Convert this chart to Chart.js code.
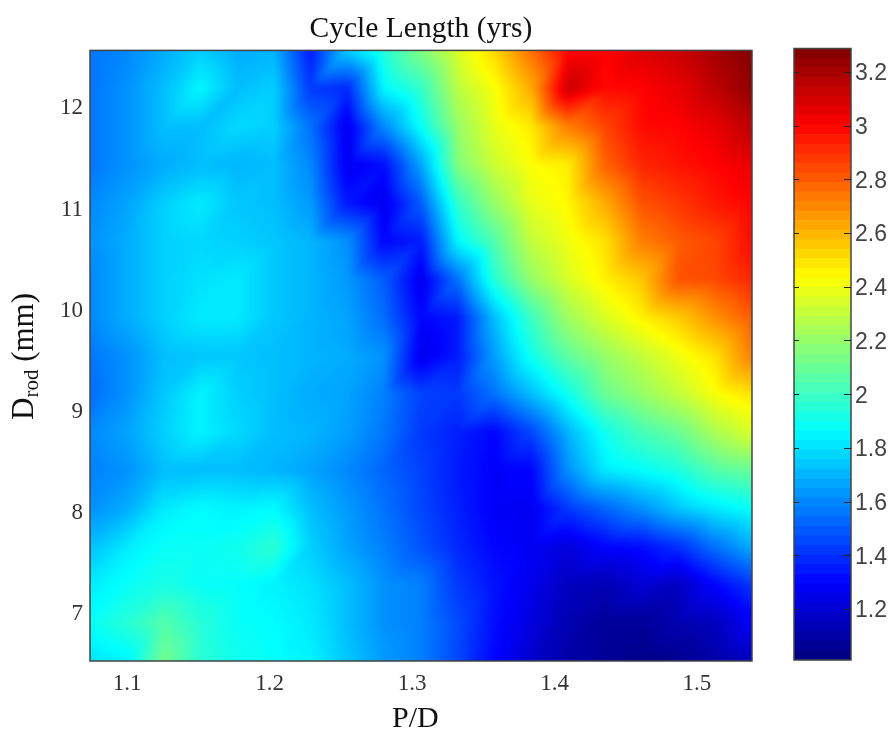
<!DOCTYPE html>
<html>
<head>
<meta charset="utf-8">
<style>
  body { margin: 0; background: #fff; }
  canvas { position: absolute; top: 0; }
</style>
<script src="https://cdn.jsdelivr.net/npm/chart.js@4"></script>
</head>
<body>
<canvas id="mapChart" width="770" height="732" style="left:0"></canvas>
<canvas id="barChart" width="121" height="732" style="left:770px"></canvas>
<script>
const xTicks = [1.1, 1.2, 1.3, 1.4, 1.5];
const yTicks = [7, 8, 9, 10, 11, 12];
const barTicks = [1.2, 1.4, 1.6, 1.8, 2, 2.2, 2.4, 2.6, 2.8, 3, 3.2];

// grid the surface was read on
const pdValues = [1.074, 1.0998, 1.1256, 1.1514, 1.1772, 1.203, 1.2288, 1.2546, 1.2804, 1.3064, 1.3322, 1.358, 1.3838, 1.4096, 1.4354, 1.4612, 1.487, 1.5128, 1.5386];
const dRodValues = [12.553, 12.176, 11.799, 11.421, 11.044, 10.667, 10.289, 9.912, 9.535, 9.157, 8.78, 8.403, 8.025, 7.648, 7.271, 6.893, 6.516];

// cycle length in years, rows top to bottom, columns left to right
const row00 = [1.56, 1.6, 1.68, 1.76, 1.68, 1.7, 1.35, 1.75, 1.95, 2.15, 2.35, 2.52, 2.75, 3.0, 3.0, 3.08, 3.12, 3.2, 3.28];
const row01 = [1.56, 1.62, 1.72, 1.85, 1.72, 1.76, 1.42, 1.38, 1.85, 1.98, 2.28, 2.42, 2.62, 3.12, 2.98, 3.0, 3.05, 3.15, 3.25];
const row02 = [1.56, 1.62, 1.72, 1.72, 1.78, 1.76, 1.55, 1.25, 1.6, 1.88, 2.2, 2.38, 2.48, 2.72, 2.85, 2.98, 3.0, 3.05, 3.15];
const row03 = [1.56, 1.62, 1.68, 1.72, 1.7, 1.72, 1.6, 1.26, 1.32, 1.66, 2.15, 2.32, 2.43, 2.47, 2.78, 2.92, 2.96, 3.0, 3.05];
const row04 = [1.6, 1.66, 1.76, 1.82, 1.74, 1.72, 1.64, 1.34, 1.25, 1.5, 1.98, 2.2, 2.38, 2.45, 2.62, 2.82, 2.88, 2.95, 3.0];
const row05 = [1.62, 1.68, 1.76, 1.78, 1.76, 1.74, 1.7, 1.62, 1.3, 1.35, 1.85, 2.05, 2.3, 2.4, 2.5, 2.72, 2.8, 2.85, 2.98];
const row06 = [1.6, 1.68, 1.76, 1.8, 1.82, 1.74, 1.7, 1.64, 1.5, 1.25, 1.55, 1.95, 2.2, 2.35, 2.46, 2.56, 2.82, 2.84, 2.92];
const row07 = [1.6, 1.68, 1.76, 1.82, 1.82, 1.74, 1.7, 1.66, 1.54, 1.3, 1.35, 1.72, 2.0, 2.22, 2.35, 2.46, 2.55, 2.68, 2.8];
const row08 = [1.56, 1.62, 1.72, 1.74, 1.74, 1.72, 1.7, 1.68, 1.62, 1.25, 1.35, 1.65, 1.9, 2.08, 2.2, 2.3, 2.4, 2.5, 2.72];
const row09 = [1.54, 1.62, 1.74, 1.84, 1.76, 1.72, 1.68, 1.66, 1.58, 1.44, 1.42, 1.55, 1.72, 1.9, 2.1, 2.2, 2.3, 2.42, 2.5];
const row10 = [1.6, 1.66, 1.76, 1.84, 1.78, 1.72, 1.7, 1.65, 1.56, 1.42, 1.36, 1.3, 1.45, 1.7, 1.9, 2.02, 2.1, 2.25, 2.35];
const row11 = [1.58, 1.62, 1.72, 1.72, 1.72, 1.7, 1.66, 1.6, 1.52, 1.44, 1.35, 1.28, 1.3, 1.62, 1.82, 1.87, 1.93, 2.05, 2.1];
const row12 = [1.62, 1.68, 1.82, 1.86, 1.84, 1.86, 1.72, 1.64, 1.55, 1.45, 1.36, 1.28, 1.26, 1.42, 1.52, 1.62, 1.74, 1.82, 1.88];
const row13 = [1.72, 1.82, 1.88, 1.88, 1.9, 1.96, 1.76, 1.66, 1.58, 1.48, 1.38, 1.3, 1.27, 1.22, 1.3, 1.32, 1.4, 1.55, 1.68];
const row14 = [1.82, 1.88, 1.92, 1.88, 1.87, 1.84, 1.8, 1.72, 1.62, 1.58, 1.42, 1.33, 1.25, 1.15, 1.13, 1.2, 1.16, 1.3, 1.42];
const row15 = [1.88, 1.95, 2.05, 1.95, 1.88, 1.86, 1.82, 1.72, 1.62, 1.58, 1.46, 1.32, 1.22, 1.12, 1.07, 1.07, 1.12, 1.15, 1.28];
const row16 = [1.8, 1.84, 2.12, 1.96, 1.9, 1.87, 1.84, 1.74, 1.64, 1.58, 1.45, 1.3, 1.18, 1.1, 1.06, 1.03, 1.05, 1.1, 1.15];
const cycleRows = [row00, row01, row02, row03, row04, row05, row06, row07, row08, row09, row10, row11, row12, row13, row14, row15, row16];

const colorMin = 1.01;
const colorMax = 3.2875;
const colorLevels = 64;

function jet(v) {
    const t = Math.max(0, Math.min(1, (v - colorMin) / (colorMax - colorMin)));
    const ch = (c) => Math.round(255 * Math.max(0, Math.min(1, 1.5 - Math.abs(4 * t - c))));
    return [ch(3), ch(2), ch(1)];
}

const points = [];
dRodValues.forEach((d, j) => pdValues.forEach((p, i) => points.push({ x: p, y: d, v: cycleRows[j][i] })));

// shades the plot area from the grid, one triangle pair per cell
const surfacePlugin = {
    id: 'surface',
    beforeDatasetsDraw(chart) {
        const { ctx, chartArea: area, scales } = chart;
        const xs = pdValues.map(v => scales.x.getPixelForValue(v));
        const ys = dRodValues.map(v => scales.y.getPixelForValue(v));
        const w = Math.round(area.right - area.left);
        const h = Math.round(area.bottom - area.top);
        const off = document.createElement('canvas');
        off.width = w;
        off.height = h;
        const octx = off.getContext('2d');
        const img = octx.createImageData(w, h);
        for (let py = 0; py < h; py++) {
            const sy = area.top + py + 0.5;
            let j = 0;
            while (j < ys.length - 2 && sy > ys[j + 1]) j++;
            const t = (ys[j + 1] - sy) / (ys[j + 1] - ys[j]);
            for (let px = 0; px < w; px++) {
                const sx = area.left + px + 0.5;
                let i = 0;
                while (i < xs.length - 2 && sx > xs[i + 1]) i++;
                const s = (sx - xs[i]) / (xs[i + 1] - xs[i]);
                const v00 = cycleRows[j + 1][i];
                const v10 = cycleRows[j + 1][i + 1];
                const v01 = cycleRows[j][i];
                const v11 = cycleRows[j][i + 1];
                const v = s > t
                    ? v00 + s * (v10 - v00) + t * (v11 - v10)
                    : v00 + t * (v01 - v00) + s * (v11 - v01);
                const c = jet(v);
                const k = (py * w + px) * 4;
                img.data[k] = c[0];
                img.data[k + 1] = c[1];
                img.data[k + 2] = c[2];
                img.data[k + 3] = 255;
            }
        }
        octx.putImageData(img, 0, 0);
        ctx.save();
        ctx.beginPath();
        ctx.rect(area.left, area.top, area.right - area.left, area.bottom - area.top);
        ctx.clip();
        // sharp copy underneath so the blur doesn't fade at the edges
        ctx.drawImage(off, area.left, area.top);
        ctx.filter = 'blur(2.5px)';
        ctx.drawImage(off, area.left, area.top);
        ctx.restore();
    }
};

const framePlugin = {
    id: 'frame',
    afterDraw(chart) {
        const { ctx, chartArea: area } = chart;
        ctx.save();
        ctx.strokeStyle = '#444';
        ctx.lineWidth = 1.5;
        ctx.strokeRect(area.left, area.top, area.right - area.left, area.bottom - area.top);
        ctx.restore();
    }
};

// axis titles: the y one has a subscript and the x one sits off centre
const axisLabelPlugin = {
    id: 'axisLabels',
    afterDraw(chart) {
        const ctx = chart.ctx;
        ctx.save();
        ctx.fillStyle = '#111';
        ctx.textBaseline = 'alphabetic';
        ctx.textAlign = 'left';
        ctx.font = '30px "Liberation Serif"';
        ctx.fillText('P/D', 392, 727);
        ctx.translate(33, 420);
        ctx.rotate(-Math.PI / 2);
        ctx.font = '31px "Liberation Serif"';
        ctx.fillText('D', 0, 0);
        let w = ctx.measureText('D').width;
        ctx.font = '21px "Liberation Serif"';
        ctx.fillText('rod', w, 5);
        w += ctx.measureText('rod').width;
        ctx.font = '31px "Liberation Serif"';
        ctx.fillText(' (mm)', w, 0);
        ctx.restore();
    }
};

// colorbar ticks point inwards from both sides
const barTickPlugin = {
    id: 'barTicks',
    afterDraw(chart) {
        const { ctx, chartArea: area, scales } = chart;
        ctx.save();
        ctx.strokeStyle = '#222';
        ctx.lineWidth = 1;
        ctx.beginPath();
        barTicks.forEach(v => {
            const y = Math.round(scales.y.getPixelForValue(v)) + 0.5;
            ctx.moveTo(area.left, y);
            ctx.lineTo(area.left + 5, y);
            ctx.moveTo(area.right - 7, y);
            ctx.lineTo(area.right, y);
        });
        ctx.stroke();
        ctx.restore();
    }
};

new Chart(document.getElementById('mapChart'), {
    type: 'scatter',
    data: { datasets: [{ label: 'Cycle Length (yrs)', data: points, pointRadius: 0, showLine: false }] },
    options: {
        responsive: false,
        animation: false,
        layout: { padding: { right: 18 } },
        plugins: {
            legend: { display: false },
            tooltip: { enabled: false },
            title: {
                display: true,
                text: 'Cycle Length (yrs)',
                fullSize: false,
                color: '#111',
                font: { family: '"Liberation Serif"', size: 29.5, weight: 'normal' },
                padding: { top: 12, bottom: 3 }
            }
        },
        scales: {
            x: {
                type: 'linear',
                min: 1.074,
                max: 1.5386,
                grid: { display: false, drawTicks: false },
                border: { display: false },
                afterBuildTicks: (s) => { s.ticks = xTicks.map(v => ({ value: v })); },
                afterFit: (s) => { s.height = 71; },
                ticks: {
                    color: '#333',
                    maxRotation: 0,
                    font: { family: '"Liberation Serif"', size: 23 },
                    padding: 9,
                    callback: (v) => String(v)
                }
            },
            y: {
                type: 'linear',
                min: 6.516,
                max: 12.553,
                grid: { display: false, drawTicks: false },
                border: { display: false },
                afterBuildTicks: (s) => { s.ticks = yTicks.map(v => ({ value: v })); },
                afterFit: (s) => { s.width = 90; },
                ticks: {
                    color: '#333',
                    font: { family: '"Liberation Serif"', size: 23 },
                    padding: 7,
                    labelOffset: 2,
                    callback: (v) => String(v)
                }
            }
        }
    },
    plugins: [surfacePlugin, framePlugin, axisLabelPlugin]
});

// colormap levels for the colorbar
const levelColors = [];
const levelRanges = [];
for (let i = 0; i < colorLevels; i++) {
    const lo = colorMin + (colorMax - colorMin) * i / colorLevels;
    const hi = colorMin + (colorMax - colorMin) * (i + 1) / colorLevels;
    const c = jet((lo + hi) / 2);
    levelColors.push(`rgb(${c[0]}, ${c[1]}, ${c[2]})`);
    levelRanges.push([lo, hi]);
}

new Chart(document.getElementById('barChart'), {
    type: 'bar',
    data: {
        labels: ['Cycle Length'],
        datasets: levelRanges.map((r, i) => ({
            label: 'level ' + i,
            data: [r],
            backgroundColor: levelColors[i],
            borderWidth: 0,
            barPercentage: 1,
            categoryPercentage: 1
        }))
    },
    options: {
        responsive: false,
        animation: false,
        layout: { padding: { left: 24, top: 48.5, bottom: 72 } },
        plugins: { legend: { display: false }, tooltip: { enabled: false } },
        scales: {
            x: { stacked: true, display: false },
            y: {
                position: 'right',
                min: colorMin,
                max: colorMax,
                grid: { display: false, drawTicks: false },
                border: { display: false },
                afterBuildTicks: (s) => { s.ticks = barTicks.map(v => ({ value: v })); },
                afterFit: (s) => { s.width = 40; },
                ticks: {
                    color: '#444',
                    font: { family: '"Liberation Sans"', size: 23 },
                    padding: 4,
                    labelOffset: 2,
                    callback: (v) => String(v)
                }
            }
        }
    },
    plugins: [framePlugin, barTickPlugin]
});
</script>
</body>
</html>
